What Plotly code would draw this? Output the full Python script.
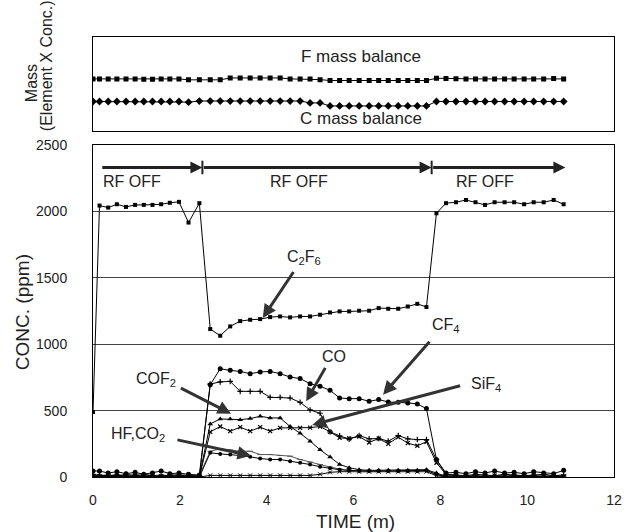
import plotly.graph_objects as go

# ---------------- data ----------------
time_m = [0, 0.15, 0.35, 0.55, 0.76, 0.97, 1.17, 1.37, 1.57, 1.77, 1.98, 2.2, 2.45,
          2.7, 2.93, 3.16, 3.39, 3.62, 3.85, 4.08, 4.31, 4.54, 4.77, 5.0, 5.23, 5.46,
          5.68, 5.9, 6.13, 6.36, 6.58, 6.8, 7.03, 7.25, 7.47, 7.68, 7.91, 8.13, 8.36,
          8.59, 8.81, 9.03, 9.25, 9.48, 9.7, 9.93, 10.15, 10.38, 10.61, 10.84]

c2f6 = [490, 2044, 2029, 2054, 2034, 2049, 2049, 2049, 2054, 2065, 2072, 1916, 2062,
        1114, 1064, 1134, 1174, 1184, 1189, 1204, 1209, 1202, 1209, 1209, 1222, 1239,
        1247, 1247, 1252, 1252, 1272, 1267, 1267, 1284, 1304, 1280, 1986, 2062, 2069,
        2086, 2069, 2049, 2069, 2069, 2069, 2054, 2069, 2069, 2086, 2054]

cf4 = [45, 45, 30, 40, 25, 35, 20, 30, 45, 25, 30, 20, 15,
       695, 815, 803, 795, 778, 791, 795, 778, 753, 741, 703, 683, 653,
       595, 590, 590, 570, 583, 565, 562, 558, 550, 515, 131, 30, 35,
       25, 40, 30, 45, 30, 35, 25, 40, 30, 25, 50]

co = [20, 10, 15, 5, 20, 10, 15, 10, 5, 15, 10, 10, 5,
      700, 716, 720, 645, 645, 645, 600, 600, 595, 562, 505, 480, 340,
      310, 285, 312, 287, 290, 270, 312, 287, 282, 282, 131, 20, 15,
      10, 20, 15, 10, 20, 15, 10, 15, 20, 10, 15]

cof2 = [5, 10, 5, 15, 5, 10, 5, 10, 5, 10, 5, 10, 5,
        400, 437, 437, 432, 440, 457, 445, 445, 380, 330, 270, 205, 150,
        95, 70, 55, 50, 50, 50, 50, 50, 50, 55, 30, 5, 5,
        0, 5, 0, 5, 0, 5, 0, 5, 0, 5, 0]

sif4 = [0, 5, 0, 5, 0, 5, 0, 0, 5, 0, 5, 0, 0,
        340, 380, 345, 375, 345, 375, 345, 370, 370, 370, 372, 380, 340,
        295, 290, 305, 260, 290, 250, 300, 255, 235, 265, 107, 20, 10,
        5, 10, 5, 10, 5, 10, 5, 10, 5, 10, 5]

hf = [0, 5, 0, 5, 0, 5, 0, 5, 0, 5, 0, 5, 0,
      182, 174, 169, 162, 152, 139, 132, 132, 119, 107, 94, 77, 65,
      55, 50, 45, 45, 45, 45, 45, 45, 45, 50, 20, 0, 0,
      0, 0, 0, 0, 0, 0, 0, 0, 0, 0, 0]

co2 = [10, 15, 10, 20, 10, 15, 25, 10, 15, 10, 20, 10, 10,
       194, 212, 204, 194, 194, 169, 169, 162, 157, 132, 112, 94, 75,
       60, 50, 40, 40, 40, 40, 40, 40, 40, 45, 15, 10, 10,
       5, 10, 5, 10, 15, 10, 5, 10, 5, 10, 5]

other = [0, 0, 0, 0, 0, 0, 0, 0, 0, 0, 0, 0, 0,
         12, 12, 12, 12, 12, 12, 12, 12, 12, 12, 12, 20, 35,
         40, 40, 40, 40, 40, 40, 40, 40, 40, 40, 10, 0, 0,
         0, 0, 0, 0, 0, 0, 0, 0, 0, 0, 0]

f_mass = [55.5, 55.5, 55.5, 55.5, 55.5, 55.5, 55.2, 55.2, 55.5, 55.5, 55.5, 54.5, 54.5,
          54.5, 54.5, 56.5, 56.5, 56.5, 56.5, 56.5, 56.5, 55.5, 55.5, 55.5, 54.7, 53.8,
          53.8, 53.8, 53.8, 53.8, 53.8, 53.8, 53.8, 53.8, 53.8, 53.8, 56.2, 55.9, 55.7,
          55.5, 55.5, 55.5, 55.5, 55.5, 55.5, 55.5, 55.5, 55.5, 55.9, 55.5]

c_mass = [31.5, 31.5, 31.5, 31.5, 31.5, 31.5, 31.5, 31.5, 31.5, 31.5, 31.5, 30.8, 32.0,
          32.0, 32.0, 32.0, 32.0, 32.0, 32.0, 32.0, 32.0, 32.0, 32.0, 30.0, 30.0, 26.8,
          26.8, 26.8, 26.8, 26.8, 26.8, 26.8, 26.8, 26.8, 26.8, 26.8, 31.5, 31.5, 31.5,
          31.5, 31.5, 31.5, 31.5, 31.5, 31.5, 31.5, 31.5, 31.5, 31.5, 31.5]

x_ticks = [0, 2, 4, 6, 8, 10, 12]
y_ticks = [0, 500, 1000, 1500, 2000, 2500]

FONT = "Liberation Sans, Arial, sans-serif"
TXT = "#222"

fig = go.Figure()

def add(y, symbol, size=5, color="black", lw=1, mlw=0, xa="x", ya="y"):
    fig.add_trace(go.Scatter(
        x=time_m, y=y, mode="lines+markers", xaxis=xa, yaxis=ya,
        line=dict(color=color, width=lw),
        marker=dict(symbol=symbol, size=size, color=color,
                    line=dict(color=color, width=mlw)),
        showlegend=False, hoverinfo="skip"))

# main panel series
add(other, "x-thin", size=4, mlw=1)
add(co2, "line-ew", size=4, color="#555", mlw=1)
add(hf, "circle", size=4)
add(sif4, "x-thin", size=4, mlw=1.2)
add(cof2, "triangle-up", size=5)
add(co, "cross-thin", size=4, mlw=1.2)
add(cf4, "circle", size=5)
add(c2f6, "square", size=4)

# top panel series
add(f_mass, "square", size=5, xa="x2", ya="y2")
add(c_mass, "diamond", size=6, xa="x2", ya="y2")

annotations = []

def arrow(x_head, y_head, x_tail, y_tail, width=3, head=2, size=0.9, color="#333"):
    annotations.append(dict(
        x=x_head, y=y_head, ax=x_tail, ay=y_tail, xref="x", yref="y",
        axref="x", ayref="y", text="", showarrow=True, arrowhead=head,
        arrowsize=size, arrowwidth=width, arrowcolor=color))

def label(x, y, text, size=16, xref="x", yref="y", angle=0):
    annotations.append(dict(x=x, y=y, xref=xref, yref=yref, text=text,
                            xanchor="center", yanchor="middle", textangle=angle,
                            showarrow=False, font=dict(size=size, family=FONT, color=TXT)))

# species arrows and labels
arrow(3.91, 1197, 4.64, 1555)
label(4.87, 1650, "C<sub>2</sub>F<sub>6</sub>")
arrow(6.68, 620, 7.78, 1030)
label(8.14, 1139, "CF<sub>4</sub>")
arrow(4.91, 570, 5.37, 833)
label(5.54, 910, "CO")
arrow(3.18, 477, 1.99, 675)
label(1.46, 733, "COF<sub>2</sub>")
arrow(5.05, 392, 8.49, 690)
label(9.05, 700, "SiF<sub>4</sub>")
arrow(3.64, 160, 1.91, 282)
label(1.04, 320, "HF,CO<sub>2</sub>")

# RF OFF arrows
arrow(2.52, 2330, 0.18, 2330, width=3, head=2, size=0.8, color="#222")
arrow(7.80, 2330, 2.52, 2330, width=3, head=2, size=0.8, color="#222")
arrow(10.88, 2330, 7.80, 2330, width=3, head=2, size=0.8, color="#222")
label(0.9, 2222, "RF OFF")
label(4.75, 2222, "RF OFF")
label(9.03, 2222, "RF OFF")

shapes = [
    dict(type="line", xref="x", yref="y", x0=2.52, x1=2.52, y0=2280, y1=2382,
         line=dict(color="#222", width=2)),
    dict(type="line", xref="x", yref="y", x0=7.80, x1=7.80, y0=2280, y1=2382,
         line=dict(color="#222", width=2)),
]

# top panel labels
label(6.17, 79, "F mass balance", size=17, xref="x2", yref="y2")
label(6.17, 13, "C mass balance", size=17, xref="x2", yref="y2")

# axis titles (paper coords: plot area 93..614 px wide, 37..477 px high)
label(0.503, -0.10, "TIME (m)", size=19, xref="paper", yref="paper")
label(-0.136, 0.375, "CONC. (ppm)", size=19, xref="paper", yref="paper", angle=-90)
label(-0.119, 0.895, "Mass", size=16, xref="paper", yref="paper", angle=-90)
label(-0.090, 0.934, "(Element X Conc.)", size=16, xref="paper", yref="paper", angle=-90)

fig.update_layout(
    width=635, height=532,
    margin=dict(l=93, r=21, t=37, b=55),
    paper_bgcolor="white", plot_bgcolor="white",
    font=dict(family=FONT, size=14, color=TXT),
    annotations=annotations, shapes=shapes,
    xaxis=dict(domain=[0, 1], range=[0, 12], tickvals=x_ticks, ticks="",
               showgrid=False, zeroline=False, showline=True, mirror=True,
               linecolor="black", linewidth=1, ticklabelstandoff=10,
               tickfont=dict(size=14), automargin=False),
    yaxis=dict(domain=[0, 0.7545], range=[0, 2500], tickvals=y_ticks, ticks="",
               showgrid=True, gridcolor="#444", gridwidth=1, zeroline=False,
               showline=True, mirror=True, linecolor="black", linewidth=1,
               ticklabelstandoff=22, tickfont=dict(size=14), automargin=False),
    xaxis2=dict(domain=[0, 1], range=[0, 12], anchor="y2", showticklabels=False,
                ticks="", showgrid=False, zeroline=False, showline=True, mirror=True,
                linecolor="black", linewidth=1, automargin=False),
    yaxis2=dict(domain=[0.786, 1], range=[0, 100], anchor="x2", showticklabels=False,
                ticks="", showgrid=False, zeroline=False, showline=True, mirror=True,
                linecolor="black", linewidth=1, automargin=False),
)

fig.write_html("out.html",
               config={"displayModeBar": False},
               post_script="document.body.style.margin='0';document.body.style.overflow='hidden';")
